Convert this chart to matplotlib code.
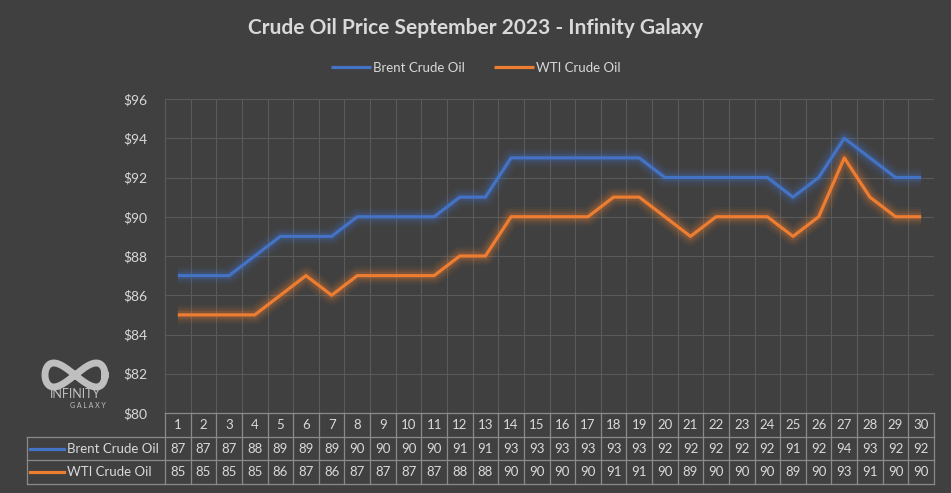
import matplotlib.pyplot as plt
import numpy as np

days = list(range(1, 31))
brent = [87, 87, 87, 88, 89, 89, 89, 90, 90, 90, 90, 91, 91, 93, 93, 93, 93, 93, 93, 92,
         92, 92, 92, 92, 91, 92, 94, 93, 92, 92]
wti = [85, 85, 85, 85, 86, 87, 86, 87, 87, 87, 87, 88, 88, 90, 90, 90, 90, 91, 91, 90,
       89, 90, 90, 90, 89, 90, 93, 91, 90, 90]
series_names = ['Brent Crude Oil', 'WTI Crude Oil']
yticks = [80, 82, 84, 86, 88, 90, 92, 94, 96]

bg = '#404040'
txt = '#d9d9d9'
gridc = '#5a5a5a'
tablec = '#8a8a8a'
colors = ['#4472C4', '#ED7D31']
plt.rcParams['font.family'] = ['Lato', 'DejaVu Sans']

fig = plt.figure(figsize=(9.51, 4.93), dpi=100, facecolor=bg)
W, H = 951, 493
ax = fig.add_axes([165 / W, 1 - 413 / H, (934 - 165) / W, (413 - 99) / H])
ax.set_facecolor(bg)

x = np.arange(len(days))
for vals, c, name in zip([brent, wti], colors, series_names):
    # soft glow
    for lw, a in [(14, 0.05), (11, 0.07), (8, 0.10), (5.5, 0.16)]:
        ax.plot(x, vals, color=c, lw=lw, alpha=a, solid_capstyle='butt', solid_joinstyle='round')
    ax.plot(x, vals, color=c, lw=2.3, label=name, solid_capstyle='butt')

ax.set_xlim(-0.5, len(days) - 0.5)
ax.set_ylim(80, 96)
ax.set_yticks(yticks)
ax.set_yticklabels(['$%d' % v for v in yticks], color=txt, fontsize=10)
ax.set_xticks(np.arange(len(days) + 1) - 0.5)
ax.set_xticklabels([])
ax.tick_params(length=0, pad=13)
ax.grid(True, color=gridc, lw=0.8)
ax.set_axisbelow(True)
for s in ax.spines.values():
    s.set_visible(False)
ax.plot([-0.5, -0.5], [80, 96], color=gridc, lw=0.8, clip_on=False)

# data table under the axes
rh = 23.7 / 314
xl = -0.5 - 138 / (769 / 30)
trans = ax.get_xaxis_transform()
lk = dict(color=tablec, lw=0.9, transform=trans, clip_on=False)
ax.plot([-0.5, 29.5], [0, 0], **lk)
for i in range(1, 4):
    ax.plot([xl, 29.5], [-i * rh, -i * rh], **lk)
for k in range(31):
    ax.plot([k - 0.5, k - 0.5], [0, -3 * rh], **lk)
ax.plot([xl, xl], [-rh, -3 * rh], **lk)
for k, d in enumerate(days):
    ax.text(k, -0.5 * rh, str(d), color=txt, fontsize=9.5, ha='center', va='center', transform=trans)
    ax.text(k, -1.5 * rh, str(brent[k]), color=txt, fontsize=9.5, ha='center', va='center', transform=trans)
    ax.text(k, -2.5 * rh, str(wti[k]), color=txt, fontsize=9.5, ha='center', va='center', transform=trans)
for r, (name, c) in enumerate(zip(series_names, colors)):
    yy = -(1.5 + r) * rh
    ax.plot([xl + 0.12, xl + 1.45], [yy, yy], color=c, lw=2.3, transform=trans, clip_on=False)
    ax.text(xl + 1.55, yy, name, color=txt, fontsize=9.5, ha='left', va='center', transform=trans)

# title and legend
fig.text(476 / W, 1 - 28 / H, 'Crude Oil Price September 2023 - Infinity Galaxy', color=txt,
         fontsize=15, fontweight='bold', ha='center', va='center')
fig.legend(loc='center', bbox_to_anchor=(476 / W, 1 - 68 / H), ncol=2, frameon=False,
           fontsize=9.5, labelcolor=txt, handlelength=3.0, handletextpad=0.2, columnspacing=2.2)

# logo
t = np.linspace(0, 2 * np.pi, 300)
lx = 75 + 30 * np.cos(t)
ly = 375 + 24 * np.sin(2 * t) / 2
fig.lines.append(plt.Line2D(lx / W, 1 - ly / H, color='#bfbfbf', lw=5, transform=fig.transFigure))
fig.text(75 / W, 1 - 394 / H, 'INFINITY', color='#bfbfbf', fontsize=9, ha='center', va='center')
fig.text(88 / W, 1 - 405 / H, 'G A L A X Y', color='#bfbfbf', fontsize=5, ha='center', va='center')

fig.savefig('out.png', dpi=100, facecolor=bg)
